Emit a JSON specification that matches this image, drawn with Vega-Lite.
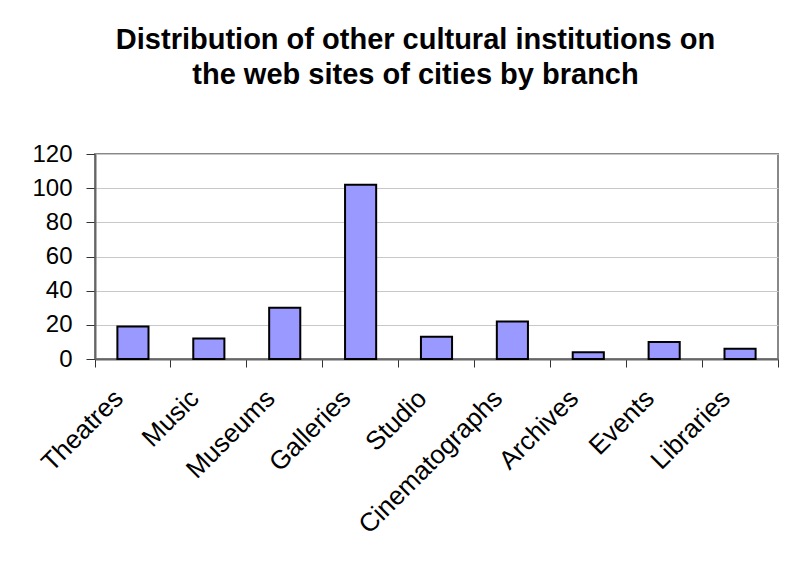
{
  "$schema": "https://vega.github.io/schema/vega-lite/v6.json",
  "autosize": {"type": "none"},
  "padding": {"left": 95, "top": 154, "right": 9, "bottom": 204},
  "width": 683,
  "height": 205,
  "background": "white",
  "title": {
    "text": ["Distribution of other cultural institutions on", "the web sites of cities by branch"],
    "font": "Liberation Sans",
    "fontSize": 29,
    "fontWeight": "bold",
    "color": "black",
    "lineHeight": 35,
    "anchor": "middle",
    "dx": -21,
    "offset": 52
  },
  "data": {
    "values": [
      {"branch": "Theatres", "count": 19},
      {"branch": "Music", "count": 12},
      {"branch": "Museums", "count": 30},
      {"branch": "Galleries", "count": 102},
      {"branch": "Studio", "count": 13},
      {"branch": "Cinematographs", "count": 22},
      {"branch": "Archives", "count": 4},
      {"branch": "Events", "count": 10},
      {"branch": "Libraries", "count": 6}
    ]
  },
  "mark": {"type": "bar", "fill": "#9999FF", "stroke": "black", "strokeWidth": 2, "width": {"band": 0.41}},
  "encoding": {
    "x": {
      "field": "branch",
      "type": "nominal",
      "sort": null,
      "scale": {"paddingInner": 0, "paddingOuter": 0},
      "axis": {
        "title": null,
        "labelAngle": -45,
        "labelAlign": "right",
        "labelBaseline": "middle",
        "labelFont": "Liberation Sans",
        "labelFontSize": 26,
        "labelColor": "black",
        "labelPadding": 27,
        "labelOffset": -14,
        "labelOverlap": false,
        "labelBound": false,
        "labelLimit": 400,
        "bandPosition": 1,
        "tickExtra": true,
        "tickSize": 8,
        "tickColor": "#333",
        "domainColor": "#666",
        "domainWidth": 2,
        "grid": false
      }
    },
    "y": {
      "field": "count",
      "type": "quantitative",
      "scale": {"domain": [0, 120], "nice": false},
      "axis": {
        "title": null,
        "values": [0, 20, 40, 60, 80, 100, 120],
        "labelFont": "Liberation Sans",
        "labelFontSize": 24,
        "labelColor": "black",
        "labelPadding": 14,
        "tickSize": 9,
        "tickColor": "#333",
        "domainColor": "#666",
        "domainWidth": 2,
        "gridColor": "#c8c8c8",
        "gridWidth": 1
      }
    }
  },
  "config": {
    "view": {"stroke": "#888", "strokeWidth": 2}
  }
}
